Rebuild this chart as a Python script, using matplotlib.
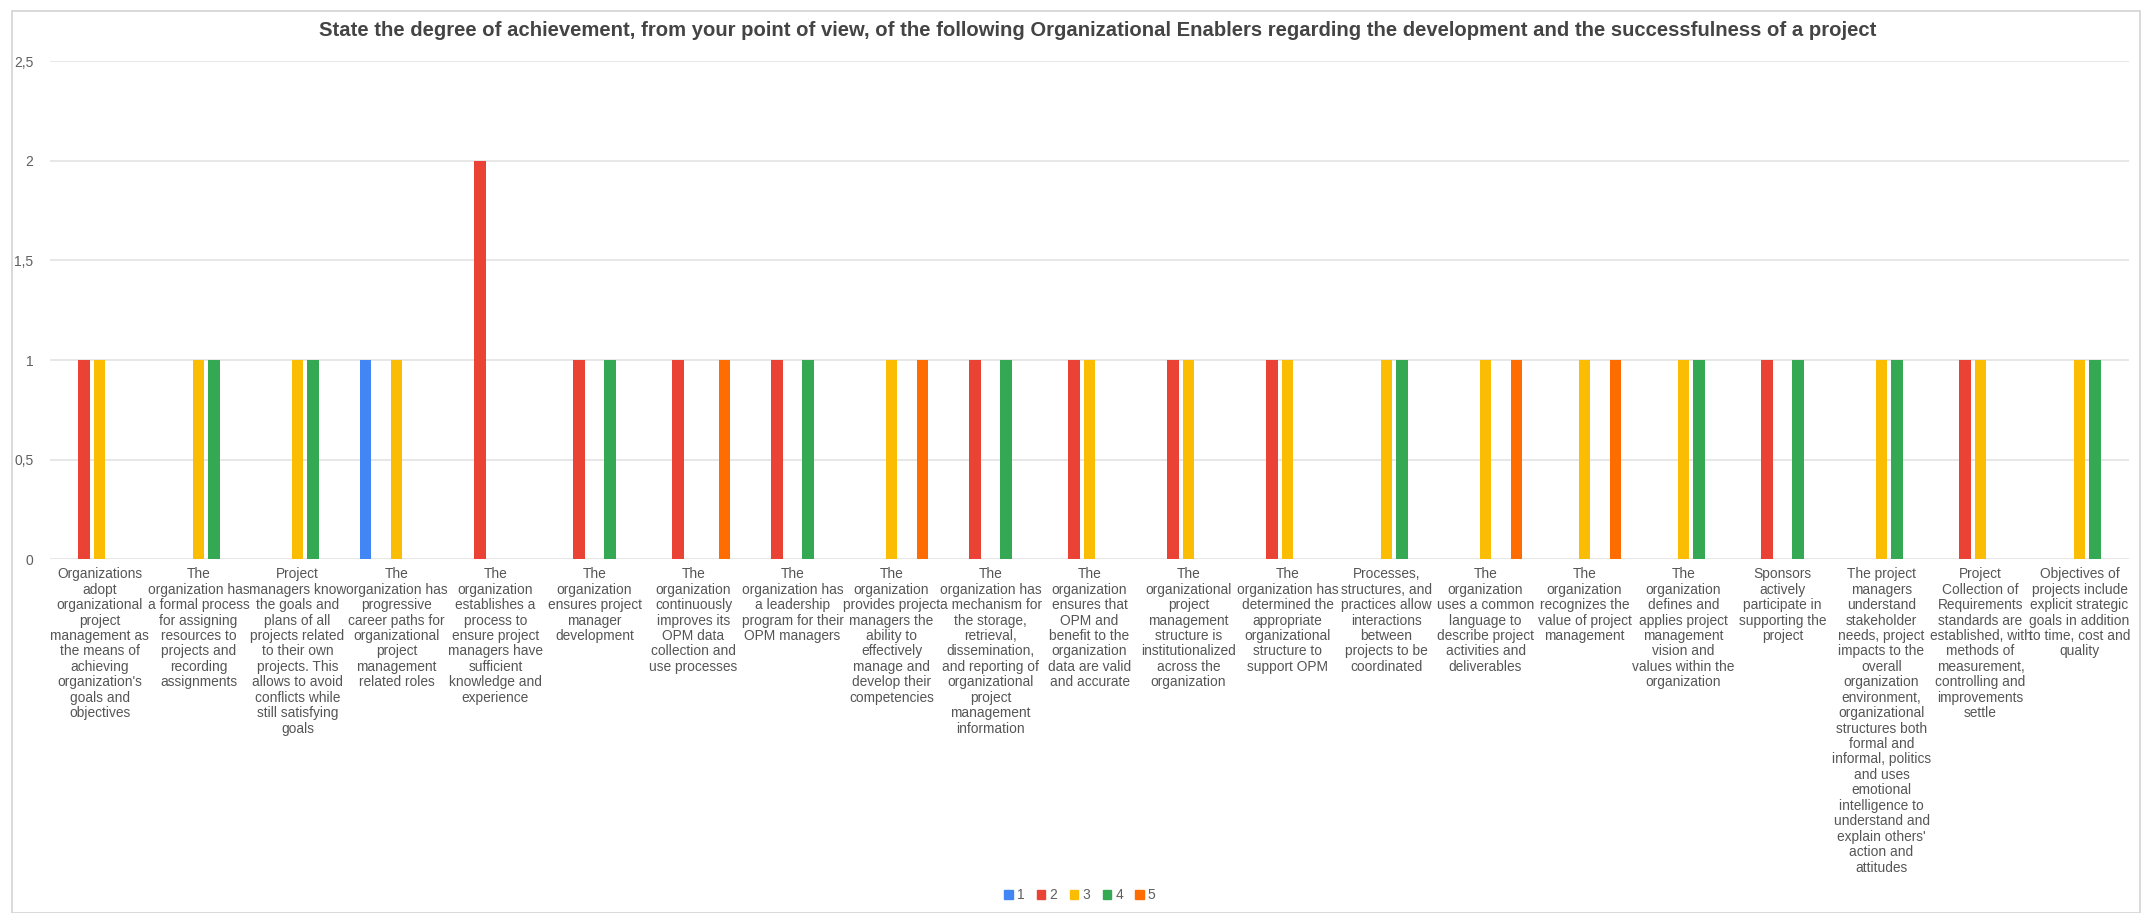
import matplotlib
matplotlib.use("Agg")
import matplotlib.pyplot as plt
import numpy as np
from matplotlib.patches import Rectangle
from matplotlib.ticker import FuncFormatter

plt.rcParams['font.family'] = ['Liberation Sans', 'DejaVu Sans']

categories = [
    "Organizations\nadopt\norganizational\nproject\nmanagement as\nthe means of\nachieving\norganization's\ngoals and\nobjectives",
    "The\norganization has\na formal process\nfor assigning\nresources to\nprojects and\nrecording\nassignments",
    "Project\nmanagers know\nthe goals and\nplans of all\nprojects related\nto their own\nprojects. This\nallows to avoid\nconflicts while\nstill satisfying\ngoals",
    "The\norganization has\nprogressive\ncareer paths for\norganizational\nproject\nmanagement\nrelated roles",
    "The\norganization\nestablishes a\nprocess to\nensure project\nmanagers have\nsufficient\nknowledge and\nexperience",
    "The\norganization\nensures project\nmanager\ndevelopment",
    "The\norganization\ncontinuously\nimproves its\nOPM data\ncollection and\nuse processes",
    "The\norganization has\na leadership\nprogram for their\nOPM managers",
    "The\norganization\nprovides project\nmanagers the\nability to\neffectively\nmanage and\ndevelop their\ncompetencies",
    "The\norganization has\na mechanism for\nthe storage,\nretrieval,\ndissemination,\nand reporting of\norganizational\nproject\nmanagement\ninformation",
    "The\norganization\nensures that\nOPM and\nbenefit to the\norganization\ndata are valid\nand accurate",
    "The\norganizational\nproject\nmanagement\nstructure is\ninstitutionalized\nacross the\norganization",
    "The\norganization has\ndetermined the\nappropriate\norganizational\nstructure to\nsupport OPM",
    "Processes,\nstructures, and\npractices allow\ninteractions\nbetween\nprojects to be\ncoordinated",
    "The\norganization\nuses a common\nlanguage to\ndescribe project\nactivities and\ndeliverables",
    "The\norganization\nrecognizes the\nvalue of project\nmanagement",
    "The\norganization\ndefines and\napplies project\nmanagement\nvision and\nvalues within the\norganization",
    "Sponsors\nactively\nparticipate in\nsupporting the\nproject",
    "The project\nmanagers\nunderstand\nstakeholder\nneeds, project\nimpacts to the\noverall\norganization\nenvironment,\norganizational\nstructures both\nformal and\ninformal, politics\nand uses\nemotional\nintelligence to\nunderstand and\nexplain others'\naction and\nattitudes",
    "Project\nCollection of\nRequirements\nstandards are\nestablished, with\nmethods of\nmeasurement,\ncontrolling and\nimprovements\nsettle",
    "Objectives of\nprojects include\nexplicit strategic\ngoals in addition\nto time, cost and\nquality",
]

series_names = ["1", "2", "3", "4", "5"]
s1 = [0, 0, 0, 1, 0, 0, 0, 0, 0, 0, 0, 0, 0, 0, 0, 0, 0, 0, 0, 0, 0]
s2 = [1, 0, 0, 0, 2, 1, 1, 1, 0, 1, 1, 1, 1, 0, 0, 0, 0, 1, 0, 1, 0]
s3 = [1, 1, 1, 1, 0, 0, 0, 0, 1, 0, 1, 1, 1, 1, 1, 1, 1, 0, 1, 1, 1]
s4 = [0, 1, 1, 0, 0, 1, 0, 1, 0, 1, 0, 0, 0, 1, 0, 0, 1, 1, 1, 0, 1]
s5 = [0, 0, 0, 0, 0, 0, 1, 0, 1, 0, 0, 0, 0, 0, 1, 1, 0, 0, 0, 0, 0]
series = [s1, s2, s3, s4, s5]
colors = ["#4285F4", "#EA4335", "#FBBC04", "#34A853", "#FF6D01"]

title = ("State the degree of achievement, from your point of view, of the following "
         "Organizational Enablers regarding the development and the successfulness of a project")

W, H = 2152, 913
fig = plt.figure(figsize=(W / 100, H / 100), dpi=100)
fig.patch.set_facecolor("white")

# light frame around the whole chart
fig.add_artist(Rectangle((12 / W, 0), (W - 24) / W, (H - 11) / H, transform=fig.transFigure,
                         fill=False, edgecolor="#d3d3d3", linewidth=1.2))

left, right = 50 / W, 2129 / W
bottom, top = 1 - 559 / H, 1 - 61.5 / H
ax = fig.add_axes([left, bottom, right - left, top - bottom])

x = np.arange(len(categories))
step = 0.1566
width = 0.121
for k, (vals, c, name) in enumerate(zip(series, colors, series_names)):
    ax.bar(x + (k - 2) * step, vals, width=width, color=c, label=name, zorder=3)

ax.set_xlim(-0.5, len(categories) - 0.5)
ax.set_ylim(0, 2.5)
ax.set_yticks([0, 0.5, 1, 1.5, 2, 2.5])
ax.yaxis.set_major_formatter(FuncFormatter(lambda v, p: f"{v:g}".replace(".", ",")))
ax.grid(axis="y", color="#e3e3e3", linewidth=1.2, zorder=0)
ax.set_axisbelow(True)
for sp in ax.spines.values():
    sp.set_visible(False)
ax.tick_params(axis="y", length=0, pad=12, labelsize=10, labelcolor="#5f5f5f")
ax.tick_params(axis="x", length=0, pad=6)
ax.set_xticks(x)
ax.set_xticklabels(categories, fontsize=9.9, color="#555555", linespacing=1.13, va="top")

fig.text(1098 / W, 1 - 30 / H, title, ha="center", va="center",
         fontsize=14.6, fontweight="bold", color="#444444")

handles = [Rectangle((0, 0), 1, 1, color=c) for c in colors]
fig.legend(handles, series_names, loc="center", bbox_to_anchor=(1080 / W, 1 - 895 / H),
           ncol=5, frameon=False, fontsize=10, handlelength=0.6, handleheight=0.6,
           handletextpad=0.3, columnspacing=0.9, labelcolor="#5f5f5f")

fig.savefig("out.png", dpi=100, facecolor="white")
